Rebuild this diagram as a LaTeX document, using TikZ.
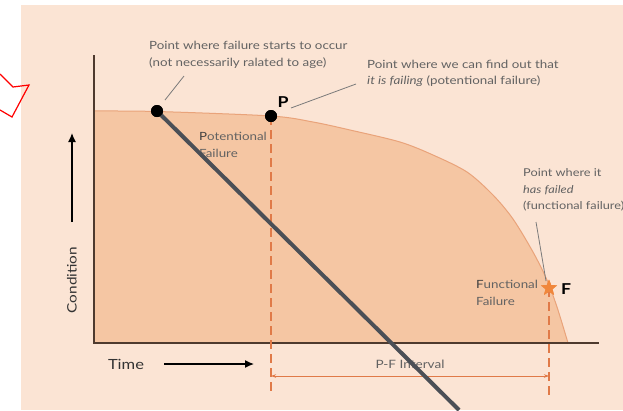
\documentclass[tikz,border=0pt]{standalone}
\usepackage{fontspec}
\setmainfont[FakeStretch=1.18]{Lato}
\usetikzlibrary{shapes.geometric,arrows.meta}
\definecolor{bgpeach}{HTML}{FBE4D4}
\definecolor{fillpeach}{HTML}{F5C6A3}
\definecolor{curveedge}{HTML}{E9A37A}
\definecolor{dashorange}{HTML}{E07A48}
\definecolor{staror}{HTML}{F0873C}
\definecolor{txtgray}{HTML}{626262}
\definecolor{darkline}{HTML}{4B4F56}
\definecolor{axisbrown}{HTML}{4E3A2E}
\definecolor{leadgray}{HTML}{7A7A7A}
\tikzset{
  note/.style={font=\fontsize{11.3}{16.5}\selectfont, text=txtgray, align=left, inner sep=0pt},
  inlabel/.style={font=\fontsize{11.3}{17.5}\selectfont, text=txtgray, align=left, inner sep=0pt},
  bigletter/.style={font=\bfseries\fontsize{15}{15}\selectfont, text=black, inner sep=0pt},
  dotpt/.style={circle, fill=black, minimum size=12pt, inner sep=0pt},
  fstar/.style={star, star points=5, star point ratio=2.3, fill=staror, minimum size=17pt, inner sep=0pt},
  leader/.style={leadgray, line width=0.8pt},
  pfdash/.style={dashorange, line width=1.1pt, dash pattern=on 9pt off 5pt},
  axisline/.style={axisbrown, line width=1.2pt},
  bigarrow/.style={black, line width=1.3pt, -{Latex[length=9pt,width=8pt]}}
}
\def\curvepts{(94,111) (157,111.5) (271,116) (313,122) (350,130) (400,142) (433,155) (467,172) (493,195) (513,219) (533,252) (547,280) (557,307) (568,343)}
\begin{document}
\begin{tikzpicture}[x=1pt,y=-1pt]
\useasboundingbox (0,0) rectangle (623,410);
\fill[white] (0,0) rectangle (623,410);
\fill[bgpeach] (21,5) rectangle (623,410);
% red outline shape
\draw[red, line width=1.2pt, line join=miter] (0,74) -- (13,87) -- (29,85) -- (12,117) -- (0,110);
% filled area under curve
\fill[fillpeach] (94,343) -- plot[smooth, tension=0.5] coordinates {\curvepts} -- cycle;
\draw[curveedge, line width=1pt] plot[smooth, tension=0.5] coordinates {\curvepts};
% axes
\coordinate (ytop) at (94,55);
\coordinate (orig) at (94,343);
\coordinate (xend) at (599,343);
\draw[axisline] (ytop) -- (orig) -- (xend);
% points
\node[dotpt] (pstart) at (157,111) {};
\node[dotpt] (ppt) at (271,116) {};
\node[fstar] (fpt) at (549,288) {};
\coordinate (pbot) at (271,395);
\coordinate (fbot) at (549,395);
\draw[pfdash] (ppt.center) -- (pbot);
\draw[pfdash] (fpt.center) -- (fbot);
\node[dotpt] at (ppt) {};
\node[fstar] at (fpt) {};
% P-F interval
\coordinate (pfl) at (271,376);
\coordinate (pfr) at (549,376);
\draw[dashorange, line width=0.7pt, {Stealth[length=5pt,width=3.5pt]}-{Stealth[length=5pt,width=3.5pt]}] (pfl) -- (pfr);
\node[font=\fontsize{11.5}{12}\selectfont, text=txtgray, inner sep=0pt] (pflab) at (410,364) {P-F Interval};
% labels P and F
\node[bigletter] (plab) at (283,102) {P};
\node[bigletter] (flab) at (566,289) {F};
% notes
\node[note, anchor=west] (n1) at (149,55) {Point where failure starts to occur\\(not necessarily ralated to age)};
\node[note, anchor=west] (n2) at (367,73.5) {Point where we can find out that\\\textit{it is failing} (potentional failure)};
\node[note, font=\fontsize{10.8}{16.5}\selectfont, anchor=west] (n3) at (523,190) {Point where it\\\textit{has failed}\\(functional failure)};
\coordinate (l1a) at (165,100); \coordinate (l1b) at (184,76);
\coordinate (l2a) at (291,108); \coordinate (l2b) at (356,84);
\coordinate (l3a) at (546,281); \coordinate (l3b) at (536,222);
\draw[leader] (l1a) -- (l1b);
\draw[leader] (l2a) -- (l2b);
\draw[leader] (l3a) -- (l3b);
% in-area labels
\node[inlabel, anchor=west] (potf) at (199,145) {{\color{black!75}P}otentional\\Failure};
\node[inlabel, anchor=west] (funcf) at (476,293) {{\color{black!75}F}unctional\\Failure};
% axis labels and arrows
\node[font=\fontsize{14}{14}\selectfont, text=black!80, inner sep=0pt] (timelab) at (126,364) {Time};
\coordinate (ta) at (164,364); \coordinate (tb) at (254,364);
\draw[bigarrow] (ta) -- (tb);
\node[font=\fontsize{13}{13}\selectfont, text=black!80, rotate=90, inner sep=0pt] (condlab) at (72,280) {Condition};
\coordinate (ca) at (72,222); \coordinate (cb) at (72,133);
\draw[bigarrow] (ca) -- (cb);
% dark diagonal
\coordinate (diagend) at (459,410);
\draw[darkline, line width=4pt] (pstart.center) -- (diagend);
\node[dotpt] at (pstart) {};
\end{tikzpicture}
\end{document}
